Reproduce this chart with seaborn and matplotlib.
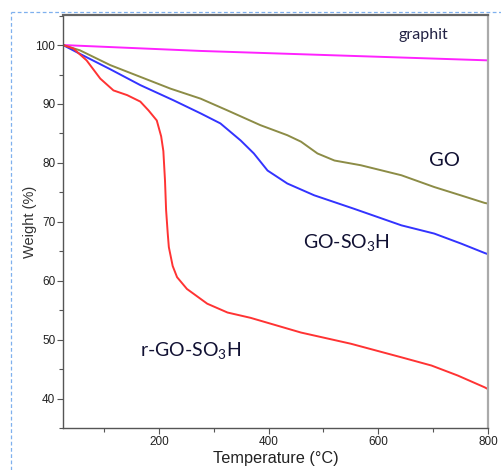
import numpy as np
import pandas as pd
import matplotlib
matplotlib.use("Agg")
import matplotlib.pyplot as plt
import seaborn as sns
from matplotlib.lines import Line2D
from matplotlib.ticker import MultipleLocator

sns.set_style("white")
plt.rcParams['font.family'] = ['Liberation Sans', 'DejaVu Sans']
plt.rcParams['mathtext.fontset'] = 'custom'
plt.rcParams['mathtext.rm'] = 'Lato'
plt.rcParams['mathtext.it'] = 'Lato:italic'
plt.rcParams['mathtext.bf'] = 'Lato:bold'

# Data
graphit_T = [25, 276, 800]
graphit_W = [100, 99.0, 97.4]

go_T = [25, 56, 111, 166, 221, 276, 325, 385, 434, 459, 489, 520, 568, 642, 702, 750, 794, 800]
go_W = [100, 99.1, 96.6, 94.6, 92.6, 90.9, 88.9, 86.4, 84.7, 83.6, 81.6, 80.4, 79.6, 77.9, 75.9, 74.5, 73.2, 73.1]

goso3h_T = [25, 56, 111, 166, 227, 276, 312, 349, 373, 398, 434, 483, 556, 642, 702, 751, 794, 800]
goso3h_W = [100, 98.5, 95.9, 93.2, 90.6, 88.4, 86.7, 83.8, 81.6, 78.7, 76.5, 74.5, 72.2, 69.4, 68.0, 66.3, 64.7, 64.5]

rgo_T = [25, 44, 68, 93, 117, 142, 166, 181, 196, 204, 208, 211, 213, 216, 218, 225, 233, 251, 288, 325, 367, 459, 550, 642, 697, 745, 794, 800]
rgo_W = [100, 99.4, 97.4, 94.3, 92.3, 91.5, 90.4, 88.9, 87.2, 84.5, 82.0, 77.0, 72.0, 68.0, 65.7, 62.5, 60.6, 58.6, 56.1, 54.6, 53.7, 51.2, 49.3, 47.0, 45.6, 43.9, 41.9, 41.6]

series_names = ["graphit", "GO", "GO-SO3H", "r-GO-SO3H"]
series_colors = ["#ff22ff", "#8c8c46", "#3333ff", "#ff3333"]
label_texts = ["graphit", "GO", "GO-SO$_3$H", "r-GO-SO$_3$H"]

frames = []
for name, T, W in [("graphit", graphit_T, graphit_W), ("GO", go_T, go_W),
                   ("GO-SO3H", goso3h_T, goso3h_W), ("r-GO-SO3H", rgo_T, rgo_W)]:
    frames.append(pd.DataFrame({"Temperature": T, "Weight": W, "sample": name}))
df = pd.concat(frames, ignore_index=True)

fig = plt.figure(figsize=(5.01, 4.70), dpi=100)
ax = fig.add_axes([63/501, 1-428/470, (488-63)/501, (428-15)/470])

sns.lineplot(data=df, x="Temperature", y="Weight", hue="sample", hue_order=series_names,
             palette=dict(zip(series_names, series_colors)), sort=False, estimator=None,
             linewidth=1.4, legend=False, ax=ax)

ax.set_xlim(25, 800)
ax.set_ylim(35, 105.1)
ax.xaxis.set_major_locator(MultipleLocator(200))
ax.xaxis.set_minor_locator(MultipleLocator(100))
ax.yaxis.set_major_locator(MultipleLocator(10))
ax.yaxis.set_minor_locator(MultipleLocator(5))
ax.tick_params(axis='both', which='major', direction='out', length=4, width=0.8,
               colors='#555555', labelcolor='#222222', labelsize=8.5, left=True, bottom=True, pad=1.5)
ax.tick_params(axis='both', which='minor', direction='out', length=3, width=0.8,
               colors='#555555', left=True, bottom=True)

for s in ['left', 'bottom']:
    ax.spines[s].set_color('#555555')
    ax.spines[s].set_linewidth(1.0)
ax.spines['top'].set_color('#666666')
ax.spines['top'].set_linewidth(1.6)
ax.spines['right'].set_color('#aaaaaa')
ax.spines['right'].set_linewidth(1.6)

ax.set_xlabel("Temperature (°C)", fontsize=11.7, color='#222222', labelpad=2.5)
ax.set_ylabel("Weight (%)", fontsize=10.5, color='#333333', labelpad=-1)

lab_font = ['Lato', 'DejaVu Sans']
ax.text(682, 101.7, label_texts[0], fontsize=11.5, family=lab_font, color='#222244', ha='center', va='center')
ax.text(720, 80.4, label_texts[1], fontsize=14.5, family=lab_font, color='#111133', ha='center', va='center')
ax.text(541, 66.5, label_texts[2], fontsize=14, family=lab_font, color='#111133', ha='center', va='center')
ax.text(257, 48.1, label_texts[3], fontsize=14, family=lab_font, color='#111133', ha='center', va='center')

# dashed frame of the original clipping
fig.add_artist(Line2D([11/501, 1.0], [1-12/470, 1-12/470], transform=fig.transFigure,
                      color='#7fb0ee', linestyle=(0, (3, 2)), linewidth=0.9))
fig.add_artist(Line2D([11/501, 11/501], [0, 1-12/470], transform=fig.transFigure,
                      color='#7fb0ee', linestyle=(0, (3, 2)), linewidth=0.9))

fig.savefig("out.png", dpi=100)
